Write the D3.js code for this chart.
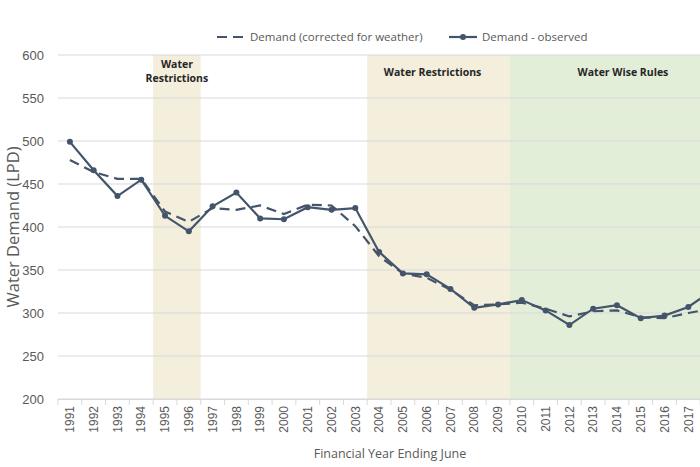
<!DOCTYPE html>
<html>
<head>
<meta charset="utf-8">
<script src="https://cdn.jsdelivr.net/npm/d3@7"></script>
<style>
  html, body { margin: 0; padding: 0; background: #fff; overflow: hidden; }
  svg { display: block; font-family: "Open Sans", "Noto Sans", sans-serif; }
</style>
</head>
<body>
<div id="chart"></div>
<script>
// data
const years = ["1991","1992","1993","1994","1995","1996","1997","1998","1999","2000",
               "2001","2002","2003","2004","2005","2006","2007","2008","2009","2010",
               "2011","2012","2013","2014","2015","2016","2017","2018"]
const observed = [499, 466, 436, 455, 413, 395, 424, 440, 410, 409,
                  423, 420, 422, 371, 346, 345, 328, 306, 310, 315,
                  303, 286, 305, 309, 294, 297, 307, 326]
const corrected = [478, 464, 456, 456, 418, 406, 422, 420, 425, 415,
                   426, 425, 401, 366, 346, 341, 327, 309, 310, 312,
                   305, 296, 302, 303, 295, 294, 300, 305]
const yTicks = [200, 250, 300, 350, 400, 450, 500, 550, 600]
const periods = [
    {from: "1995", to: "1996", label: ["Water", "Restrictions"], fill: "#f4eedc", shift: 0},
    {from: "2004", to: "2009", label: ["Water Restrictions"], fill: "#f4eedc", shift: -6},
    {from: "2010", to: "2018", label: ["Water Wise Rules"], fill: "#e3eed9", shift: 6}
]

const width = 700, height = 467
const margin = {top: 55, left: 58, bottom: 68}
const plotRight = 724

const svg = d3.select("#chart").append("svg")
    .attr("width", width).attr("height", height)

const x = d3.scaleBand().domain(years).range([margin.left, plotRight])
const y = d3.scaleLinear().domain([200, 600]).range([height - margin.bottom, margin.top])

// shaded periods
svg.append("g").selectAll("rect")
    .data(periods).enter().append("rect")
    .attr("x", d => x(d.from))
    .attr("y", y(600))
    .attr("width", d => x(d.to) + x.bandwidth() - x(d.from))
    .attr("height", y(200) - y(600))
    .style("fill", d => d.fill)

// gridlines
svg.append("g").selectAll("line")
    .data(yTicks).enter().append("line")
    .attr("x1", margin.left).attr("x2", plotRight)
    .attr("y1", d => y(d)).attr("y2", d => y(d))
    .style("stroke", "#d9d9d9").style("stroke-width", 1)

// y axis labels
const yAxis = svg.append("g")
    .attr("transform", `translate(${margin.left},0)`)
    .call(d3.axisLeft(y).tickValues(yTicks).tickSize(0).tickPadding(14))
yAxis.select(".domain").remove()
yAxis.selectAll("text").style("font-size", "13px").style("fill", "#595959")

// x axis with ticks between categories
const xAxis = svg.append("g")
    .attr("transform", `translate(0,${y(200)})`)
    .call(d3.axisBottom(x).tickSize(0).tickPadding(0))
xAxis.select(".domain").style("stroke", "#d9d9d9")
xAxis.selectAll("text")
    .attr("transform", "rotate(-90)")
    .attr("x", -7).attr("y", 0).attr("dy", "0.35em")
    .style("text-anchor", "end")
    .style("font-size", "12px").style("fill", "#595959")
xAxis.selectAll(".sep")
    .data(years.concat(["end"])).enter().append("line")
    .attr("class", "sep")
    .attr("x1", (d, i) => margin.left + i * x.step())
    .attr("x2", (d, i) => margin.left + i * x.step())
    .attr("y1", 0).attr("y2", 6)
    .style("stroke", "#d9d9d9")

// period labels
periods.forEach(p => {
    const cx = (x(p.from) + x(p.to) + x.bandwidth()) / 2 + p.shift
    const t = svg.append("text")
        .attr("x", cx).attr("y", p.label.length > 1 ? 68 : 76)
        .style("text-anchor", "middle")
        .style("font-size", "10.5px").style("font-weight", "bold")
        .style("fill", "#262626")
    p.label.forEach((l, i) => {
        t.append("tspan").attr("x", cx).attr("dy", i === 0 ? 0 : "1.35em").text(l)
    })
})

const lineColor = "#44546a"
const line = d3.line().x((d, i) => x(years[i]) + x.bandwidth() / 2).y(d => y(d))

svg.append("path").datum(corrected)
    .attr("d", line)
    .style("fill", "none").style("stroke", lineColor)
    .style("stroke-width", 2.2).style("stroke-dasharray", "10,6")

svg.append("path").datum(observed)
    .attr("d", line)
    .style("fill", "none").style("stroke", lineColor)
    .style("stroke-width", 2.2)

svg.append("g").selectAll("circle")
    .data(observed).enter().append("circle")
    .attr("cx", (d, i) => x(years[i]) + x.bandwidth() / 2)
    .attr("cy", d => y(d))
    .attr("r", 3)
    .style("fill", lineColor)

// legend
const leg = svg.append("g").attr("transform", "translate(0,37)")
leg.append("line").attr("x1", 217).attr("x2", 245).attr("y1", 0).attr("y2", 0)
    .style("stroke", lineColor).style("stroke-width", 2.2).style("stroke-dasharray", "10,6")
leg.append("text").attr("x", 250).attr("y", 0).attr("dy", "0.35em")
    .style("font-size", "11.5px").style("fill", "#595959")
    .text("Demand (corrected for weather)")
leg.append("line").attr("x1", 449).attr("x2", 477).attr("y1", 0).attr("y2", 0)
    .style("stroke", lineColor).style("stroke-width", 2.2)
leg.append("circle").attr("cx", 463).attr("cy", 0).attr("r", 3).style("fill", lineColor)
leg.append("text").attr("x", 482).attr("y", 0).attr("dy", "0.35em")
    .style("font-size", "11.5px").style("fill", "#595959")
    .text("Demand - observed")

// axis titles
svg.append("text")
    .attr("x", 390).attr("y", 458)
    .style("text-anchor", "middle")
    .style("font-size", "12.5px").style("fill", "#595959")
    .text("Financial Year Ending June")

svg.append("text")
    .attr("transform", `translate(13,${y(400)}) rotate(-90)`)
    .style("text-anchor", "middle")
    .attr("dy", "0.35em")
    .style("font-size", "16.5px").style("fill", "#595959")
    .text("Water Demand (LPD)")
</script>
</body>
</html>
